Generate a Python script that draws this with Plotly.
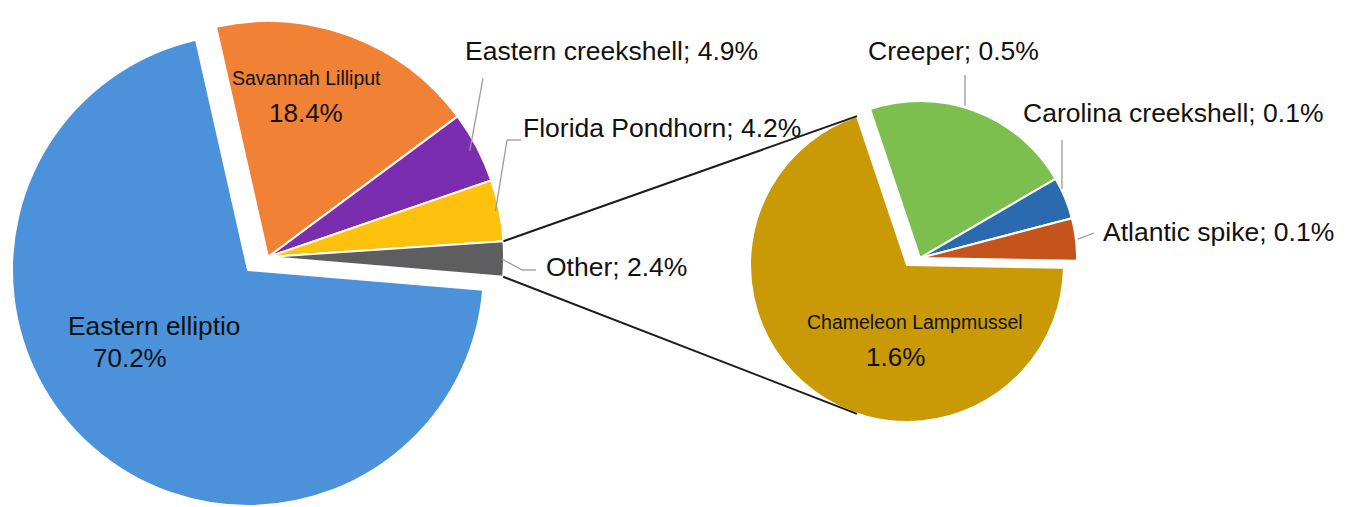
import math
import plotly.graph_objects as go

W, H = 1349, 507

# ---- data ----
main_labels = ["Eastern elliptio", "Savannah Lilliput", "Eastern creekshell", "Florida Pondhorn", "Other"]
main_values = [70.2, 18.4, 4.9, 4.2, 2.4]
main_colors = ["#4C92DA", "#F08135", "#7A2DAE", "#FDC10E", "#5E5E60"]

sub_labels = ["Chameleon Lampmussel", "Creeper", "Carolina creekshell", "Atlantic spike"]
sub_values = [1.6, 0.5, 0.1, 0.1]
sub_colors = ["#C99906", "#7DBF4F", "#2C6AB0", "#C5531C"]

# ---- geometry (pixels) ----
MAIN_C = (248, 270)        # centre of the large slice
MAIN_PULL_C = (268, 257)   # centre of the exploded group
MAIN_R = 236
MAIN_ROT = 94.8
SUB_C = (907, 265)
SUB_PULL_C = (920, 258)
SUB_R = 157
SUB_ROT = 91.0

FONT = "Liberation Sans, Arial, sans-serif"
TXT = "#111111"
CLEAR = "rgba(0,0,0,0)"


def px(x, y):
    return x / W, 1 - y / H


def dom(c, r):
    return dict(x=[(c[0] - r) / W, (c[0] + r) / W], y=[1 - (c[1] + r) / H, 1 - (c[1] - r) / H])


def slice_angles(values, rot):
    tot = sum(values)
    out, a = [], rot
    for v in values:
        b = a + 360 * v / tot
        out.append((a, b))
        a = b
    return out


def pt(c, r, theta):
    t = math.radians(theta)
    return c[0] + r * math.sin(t), c[1] - r * math.cos(t)


def arc_y_at(c, r, x):
    return c[1] - math.sqrt(max(r * r - (x - c[0]) ** 2, 0))


fig = go.Figure()


def add_pie(labels, values, colors, c, r, rot, visible_idx):
    cols = [colors[i] if i in visible_idx else CLEAR for i in range(len(values))]
    widths = [2 if i in visible_idx else 0 for i in range(len(values))]
    fig.add_trace(go.Pie(
        labels=labels, values=values, sort=False, direction="clockwise", rotation=rot,
        marker=dict(colors=cols, line=dict(color="white", width=widths)),
        textinfo="none", domain=dom(c, r), showlegend=False, hoverinfo="label+value",
    ))


add_pie(main_labels, main_values, main_colors, MAIN_C, MAIN_R, MAIN_ROT, {0})
add_pie(main_labels, main_values, main_colors, MAIN_PULL_C, MAIN_R, MAIN_ROT, {1, 2, 3, 4})
add_pie(sub_labels, sub_values, sub_colors, SUB_C, SUB_R, SUB_ROT, {0})
add_pie(sub_labels, sub_values, sub_colors, SUB_PULL_C, SUB_R, SUB_ROT, {1, 2, 3})

shapes = []


def seg(p, q, color, width):
    x0, y0 = px(*p)
    x1, y1 = px(*q)
    shapes.append(dict(type="line", xref="paper", yref="paper", x0=x0, y0=y0, x1=x1, y1=y1,
                       line=dict(color=color, width=width)))


# connector lines between "Other" and the secondary pie
ma = slice_angles(main_values, MAIN_ROT)
sa = slice_angles(sub_values, SUB_ROT)
other_a = ma[4]
top_start = pt(MAIN_PULL_C, MAIN_R, other_a[0])
bot_start = pt(MAIN_PULL_C, MAIN_R, other_a[1])
top_end = pt(SUB_C, SUB_R, sa[0][1])
bot_end = (top_end[0], 2 * SUB_C[1] - top_end[1])
seg(top_start, top_end, "#1c1c1c", 2)
seg(bot_start, bot_end, "#1c1c1c", 2)

LEAD = "#9a9a9a"
# leader lines
mid = lambda a: (a[0] + a[1]) / 2
p = pt(MAIN_PULL_C, MAIN_R - 8, mid(ma[2]))
seg(p, (483, 78), LEAD, 1.3)
p = pt(MAIN_PULL_C, MAIN_R - 4, mid(ma[3]))
seg(p, (507, 140), LEAD, 1.3)
seg((507, 140), (521, 140), LEAD, 1.3)
p = pt(MAIN_PULL_C, MAIN_R - 2, mid(ma[4]))
seg(p, (522, 270), LEAD, 1.3)
seg((522, 270), (536, 270), LEAD, 1.3)
seg((965, arc_y_at(SUB_PULL_C, SUB_R, 965) - 2), (965, 75), LEAD, 1.3)
seg((1062, arc_y_at(SUB_PULL_C, SUB_R, 1062) - 2), (1062, 140), LEAD, 1.3)
p = pt(SUB_PULL_C, SUB_R + 2, mid(sa[3]))
seg(p, (1094, 233), LEAD, 1.3)

annotations = []


def label(text, x, y, size, anchor="left"):
    ax, ay = px(x, y)
    annotations.append(dict(text=text, x=ax, y=ay, xref="paper", yref="paper", xanchor=anchor,
                            yanchor="middle", showarrow=False, font=dict(family=FONT, size=size, color=TXT)))


def pct(v):
    return f"{v:.1f}%"


label(f"{main_labels[2]}; {pct(main_values[2])}", 463, 51, 26.5)
label(f"{main_labels[3]}; {pct(main_values[3])}", 521, 128, 26.5)
label(f"{main_labels[4]}; {pct(main_values[4])}", 544, 267, 26.5)
label(f"{sub_labels[1]}; {pct(sub_values[1])}", 866, 51, 26.5)
label(f"{sub_labels[2]}; {pct(sub_values[2])}", 1021, 113, 26.5)
label(f"{sub_labels[3]}; {pct(sub_values[3])}", 1101, 232, 26.5)
label(main_labels[0], 66, 326, 26.3)
label(pct(main_values[0]), 91, 358, 26)
label(main_labels[1], 230, 78, 19.5)
label(pct(main_values[1]), 267, 113, 26)
label(sub_labels[0], 805, 322, 19.5)
label(pct(sub_values[0]), 864, 357, 26)

fig.update_layout(
    width=W, height=H, margin=dict(l=0, r=0, t=0, b=0),
    paper_bgcolor="white", plot_bgcolor="white",
    shapes=shapes, annotations=annotations, showlegend=False,
)
fig.write_html("out.html", config={"displayModeBar": False},
               post_script="document.body.style.margin='0';document.body.style.padding='0';")
